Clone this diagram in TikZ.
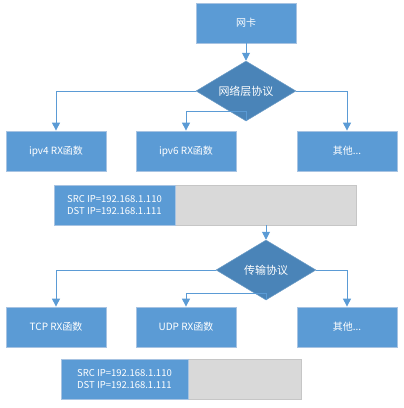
\documentclass[tikz,border=0pt]{standalone}
\usepackage{fontspec}
\setmainfont{Noto Sans CJK SC}
\usetikzlibrary{shapes.geometric,arrows.meta}
\definecolor{boxblue}{HTML}{5B9BD5}
\definecolor{boxedge}{HTML}{A7C3E2}
\definecolor{diablue}{HTML}{4A84B8}
\definecolor{pktgray}{HTML}{D9D9D9}
\definecolor{pktedge}{HTML}{C6C6C6}
\tikzset{
  fbox/.style={rectangle,fill=boxblue,draw=boxedge,line width=0.8pt,
    minimum width=100pt,minimum height=40pt,text=white,inner sep=0pt,
    font=\fontsize{10}{12}\selectfont},
  decide/.style={diamond,fill=diablue,draw=diablue!80!white,line width=0.5pt,
    aspect=1.667,minimum width=100pt,minimum height=60pt,inner sep=0pt,
    text=white,font=\fontsize{11}{13}\selectfont},
  ipbox/.style={rectangle,fill=boxblue,draw=boxedge,line width=0.8pt,
    minimum height=40pt,text=white,inner sep=0pt,align=left,
    font=\fontsize{9.5}{12.5}\selectfont},
  restbox/.style={rectangle,fill=pktgray,draw=pktedge,line width=0.8pt,
    minimum height=40pt,inner sep=0pt},
  arr/.style={draw=boxblue,line width=1pt,-{Triangle[width=8pt,length=8pt]}}
}
\begin{document}
\begin{tikzpicture}[x=1pt,y=-1pt]
\useasboundingbox (0,0) rectangle (404,408);
% layer 3
\node[fbox] (nic) at (246,23) {网卡};
\node[decide] (netproto) at (246,91) {网络层协议};
\node[fbox] (ipvfour) at (56,151) {ipv4 RX函数};
\node[fbox] (ipvsix) at (186,151) {ipv6 RX函数};
\node[fbox] (otherA) at (347,151) {其他...};
\node[restbox,minimum width=181pt] (pktArest) at (265.5,205) {};
\node[ipbox,minimum width=121pt] (pktAsrc) at (114.5,205) {SRC IP=192.168.1.110\\DST IP=192.168.1.111};
\draw[arr] (nic) -- (netproto);
\draw[arr] (netproto.west) -| (ipvfour.north);
\draw[arr] (netproto.south) -- ++(0,-10) -| (ipvsix.north);
\draw[arr] (netproto.east) -| (otherA.north);
% layer 4
\node[decide] (transproto) at (266,270) {传输协议};
\node[fbox] (tcp) at (56,327) {TCP RX函数};
\node[fbox] (udp) at (186,327) {UDP RX函数};
\node[fbox] (otherB) at (347,327) {其他...};
\node[restbox,minimum width=113pt] (pktBrest) at (244.5,379) {};
\node[ipbox,minimum width=127pt] (pktBsrc) at (124.5,379) {SRC IP=192.168.1.110\\DST IP=192.168.1.111};
\draw[arr] (transproto.north |- pktArest.south) -- (transproto.north);
\draw[arr] (transproto.west) -| (tcp.north);
\draw[arr] (transproto.south) -- ++(0,-7) -| (udp.north);
\draw[arr] (transproto.east) -| (otherB.north);
\end{tikzpicture}
\end{document}
